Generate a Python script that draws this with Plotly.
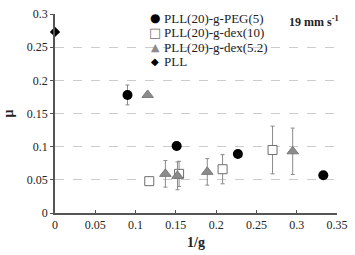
import plotly.graph_objects as go

# Data
peg_x = [0.090, 0.151, 0.227, 0.333]
peg_y = [0.178, 0.101, 0.089, 0.057]
peg_err = [0.015, 0.006, 0.0, 0.0]

dex10_x = [0.117, 0.154, 0.208, 0.270]
dex10_y = [0.048, 0.059, 0.066, 0.095]
dex10_err = [0.0, 0.019, 0.022, 0.036]

dex52_x = [0.115, 0.137, 0.152, 0.189, 0.295]
dex52_y = [0.178, 0.059, 0.056, 0.062, 0.093]
dex52_err = [0.0, 0.020, 0.021, 0.020, 0.035]

pll_x = [0.0]
pll_y = [0.273]

names = ["PLL(20)-g-PEG(5)", "PLL(20)-g-dex(10)", "PLL(20)-g-dex(5.2)", "PLL"]

x_ticks = [0, 0.05, 0.1, 0.15, 0.2, 0.25, 0.3, 0.35]
x_tick_labels = ["0", "0.05", "0.1", "0.15", "0.2", "0.25", "0.3", "0.35"]
y_ticks = [0, 0.05, 0.1, 0.15, 0.2, 0.25, 0.3]
y_tick_labels = ["0", "0.05", "0.1", "0.15", "0.2", "0.25", "0.3"]

FONT = "Times New Roman, Liberation Serif, DejaVu Serif, serif"
ERRC = "#8a8a8a"
TRI_C = "#8c8c8c"
SQ_C = "#6e6e6e"

fig = go.Figure()

def err(a):
    return dict(type="data", array=a, visible=True, color=ERRC, thickness=1, width=2)

fig.add_trace(go.Scatter(
    x=peg_x, y=peg_y, mode="markers", name=names[0],
    marker=dict(symbol="circle", size=10, color="black"),
    error_y=err(peg_err)))
fig.add_trace(go.Scatter(
    x=dex10_x, y=dex10_y, mode="markers", name=names[1],
    marker=dict(symbol="square", size=9, color="white", line=dict(color=SQ_C, width=1)),
    error_y=err(dex10_err)))
fig.add_trace(go.Scatter(
    x=dex52_x, y=dex52_y, mode="markers", name=names[2],
    marker=dict(symbol="triangle-up", size=10, color=TRI_C, line=dict(color="#7a7a7a", width=1)),
    error_y=err(dex52_err)))
fig.add_trace(go.Scatter(
    x=pll_x, y=pll_y, mode="markers", name=names[3],
    marker=dict(symbol="diamond", size=8, color="black"),
    cliponaxis=False))

fig.update_layout(
    width=355, height=255,
    margin=dict(l=52, r=15, t=7, b=42),
    paper_bgcolor="white", plot_bgcolor="white",
    font=dict(family=FONT, size=11, color="#222"),
    showlegend=False,
    xaxis=dict(range=[0, 0.35], tickvals=x_ticks, ticktext=x_tick_labels,
               showgrid=False, zeroline=False, showline=True, linecolor="#555", linewidth=1.5,
               ticks="inside", ticklen=3, tickcolor="#555",
               tickfont=dict(family=FONT, size=12),
               title=dict(text="<b>1/g</b>", font=dict(family=FONT, size=14), standoff=6)),
    yaxis=dict(range=[0, 0.3], tickvals=y_ticks, ticktext=y_tick_labels,
               showgrid=True, gridcolor="#cccccc", griddash="dash", gridwidth=1,
               zeroline=False, showline=True, linecolor="#555", linewidth=1.5,
               ticks="outside", ticklen=3, tickcolor="#555",
               tickfont=dict(family=FONT, size=12),
               title=dict(text="<b>μ</b>", font=dict(family=FONT, size=14), standoff=10)),
)

# Legend drawn as text rows (compact line spacing like the original)
legend_symbols = [
    ("●", "black", 12),
    ("□", SQ_C, 13),
    ("▲", TRI_C, 11),
    ("◆", "black", 10),
]
row_y0 = 0.978
row_step = 0.073
for i, (name, (sym, col, ssize)) in enumerate(zip(names, legend_symbols)):
    yy = row_y0 - i * row_step
    fig.add_annotation(x=0.355, y=yy, xref="paper", yref="paper", xanchor="center", yanchor="middle",
                       text=f"<span style='color:{col}'>{sym}</span>", showarrow=False,
                       font=dict(family="DejaVu Sans", size=ssize, color=col))
    fig.add_annotation(x=0.378, y=yy, xref="paper", yref="paper", xanchor="left", yanchor="middle",
                       text=name, showarrow=False,
                       font=dict(family=FONT, size=13, color="#222"))

fig.add_annotation(x=1.014, y=0.96, xref="paper", yref="paper", xanchor="right", yanchor="middle",
                   text="<b>19 mm s<sup>-1</sup></b>", showarrow=False,
                   font=dict(family=FONT, size=12, color="#222"))

fig.write_html("out.html")
